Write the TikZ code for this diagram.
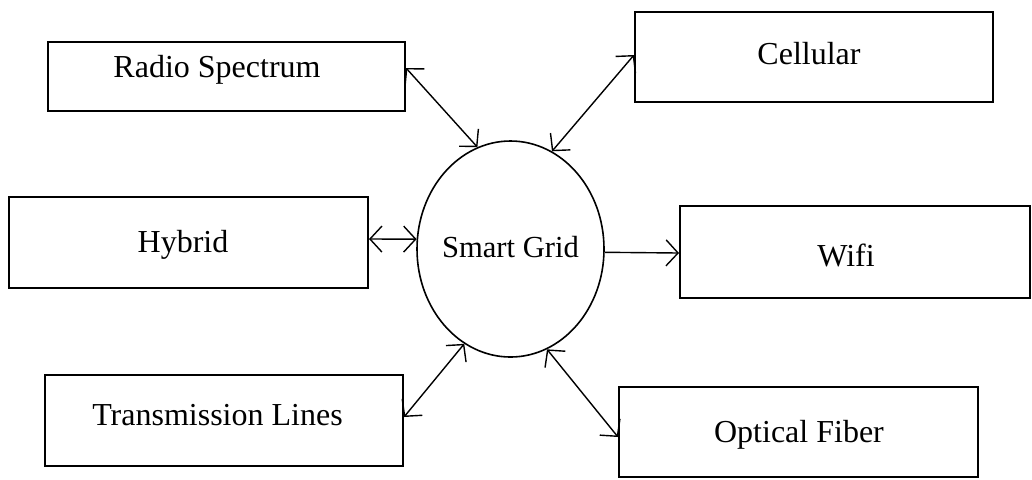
\documentclass[tikz,border=0pt]{standalone}
\usepackage{fontspec}
\setmainfont{Liberation Serif}
\usetikzlibrary{arrows.meta,shapes.geometric}
\begin{document}
\begin{tikzpicture}[x=0.5pt,y=-0.5pt,
  box/.style={draw, line width=1pt, rectangle, inner sep=0pt},
  hub/.style={draw, line width=0.8pt, ellipse, inner sep=0pt,
    minimum width=93.5pt, minimum height=108pt},
  lbl/.style={anchor=base, inner sep=0pt, font=\fontsize{16}{19}\selectfont},
  link/.style={line width=0.7pt, {Straight Barb[length=6pt,width=13pt]}-{Straight Barb[length=6pt,width=13pt]}},
  onelink/.style={line width=0.7pt, -{Straight Barb[length=6pt,width=13pt]}}]
  \useasboundingbox (0,0) rectangle (1032,479);

  % outer boxes
  \node[box, minimum width=178.5pt, minimum height=34.5pt] (rs) at (226.5,76.5) {};
  \node[box, minimum width=179pt, minimum height=45pt] (cel) at (814,57) {};
  \node[box, minimum width=179.5pt, minimum height=45.5pt] (hyb) at (188.5,242.5) {};
  \node[box, minimum width=175pt, minimum height=46pt] (wifi) at (855,252) {};
  \node[box, minimum width=179pt, minimum height=45.5pt] (tl) at (224,420.5) {};
  \node[box, minimum width=179.5pt, minimum height=45pt] (of) at (798.5,432) {};

  % central hub
  \node[hub] (sg) at (510.5,249) {};

  % labels
  \node[lbl] (rsT) at (217,77) {Radio Spectrum};
  \node[lbl] (celT) at (809,64) {Cellular};
  \node[lbl] (hybT) at (183,252) {Hybrid};
  \node[lbl] (wifiT) at (846,266) {Wifi};
  \node[lbl] (tlT) at (217.5,425) {Transmission Lines};
  \node[lbl] (ofT) at (799,442) {Optical Fiber};
  \node[lbl, font=\fontsize{15.3}{18}\selectfont] (sgT) at (510.5,257) {Smart Grid};

  % attachment points on the box edges
  \coordinate (rsP) at (rs.east |- 0,68);
  \coordinate (celP) at (cel.west |- 0,55);
  \coordinate (hybP) at (hyb.east |- 0,239);
  \coordinate (wifiP) at (wifi.west |- 0,253);
  \coordinate (tlP) at (tl.east |- 0,417);
  \coordinate (ofP) at (of.west |- 0,437);

  % connectors
  \draw[link] (rsP) -- (sg.108);
  \draw[link] (celP) -- (sg.67);
  \draw[link] (hybP) -- (sg.174);
  \draw[onelink] (sg.358) -- (wifiP);
  \draw[link] (tlP) -- (sg.244);
  \draw[link] (ofP) -- (sg.290);
\end{tikzpicture}
\end{document}
